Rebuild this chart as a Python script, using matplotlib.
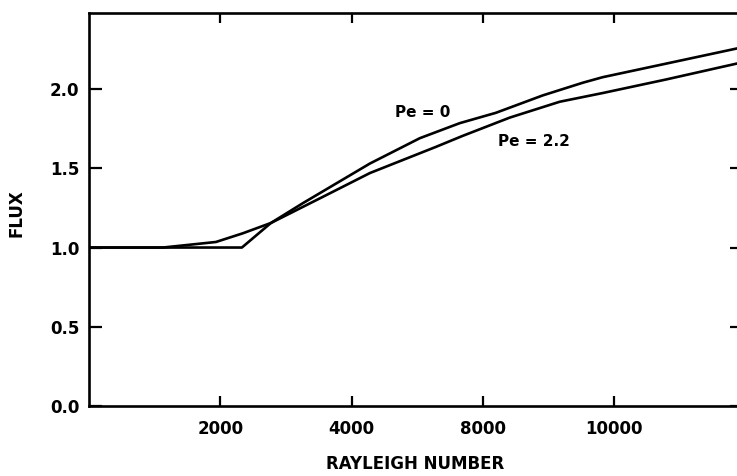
import matplotlib
matplotlib.use('Agg')
import matplotlib.pyplot as plt

# curve readings (x in plot units, tick labels below are as printed)
ra_pe0 = [0, 2330, 2772, 3259, 4280, 5041, 5650, 6199, 6914, 7524, 7828, 8788, 9915]
flux_pe0 = [1.0, 1.0, 1.155, 1.28, 1.53, 1.69, 1.785, 1.85, 1.96, 2.04, 2.075, 2.16, 2.26]

ra_pe22 = [0, 1127, 1934, 2345, 2772, 3564, 4280, 5285, 5696, 6412, 7173, 7828, 8788, 9915]
flux_pe22 = [1.0, 1.0, 1.035, 1.09, 1.155, 1.32, 1.47, 1.635, 1.705, 1.82, 1.92, 1.975, 2.06, 2.165]

x_ticks = [2000, 4000, 6000, 8000]
x_labels = ['2000', '4000', '8000', '10000']
y_ticks = [0.0, 0.5, 1.0, 1.5, 2.0]
y_labels = ['0.0', '0.5', '1.0', '1.5', '2.0']

plt.rcParams['font.family'] = ['DejaVu Sans']
plt.rcParams['font.weight'] = 'bold'

fig = plt.figure(figsize=(7.37, 4.76), dpi=100)
fig.set_facecolor('w')
ax = fig.add_axes([89/737, 70/476, 653/737, 393/476])

ax.plot(ra_pe0, flux_pe0, color='k', lw=1.9)
ax.plot(ra_pe22, flux_pe22, color='k', lw=1.9)

ax.text(4660, 1.85, 'Pe = 0', fontsize=11, fontweight='bold', va='center', ha='left')
ax.text(6229, 1.67, 'Pe = 2.2', fontsize=11, fontweight='bold', va='center', ha='left')

ax.set_xlim(0, 9950)
ax.set_ylim(0, 2.48)

for s in ax.spines.values():
    s.set_linewidth(1.9)

ax.set_xticks(x_ticks)
ax.set_xticklabels(x_labels)
ax.set_yticks(y_ticks)
ax.set_yticklabels(y_labels)
ax.tick_params(axis='x', direction='in', length=7, width=1.6, top=True,
               labelsize=12, pad=10)
ax.tick_params(axis='y', direction='in', length=9, width=1.6, right=True,
               labelsize=12, pad=7)

ax.set_xlabel('RAYLEIGH NUMBER', fontsize=12, fontweight='bold', labelpad=12)
ax.set_ylabel('FLUX', fontsize=12, fontweight='bold')
ax.yaxis.set_label_coords(-0.097, 0.49)

fig.savefig('out.png', dpi=100)
